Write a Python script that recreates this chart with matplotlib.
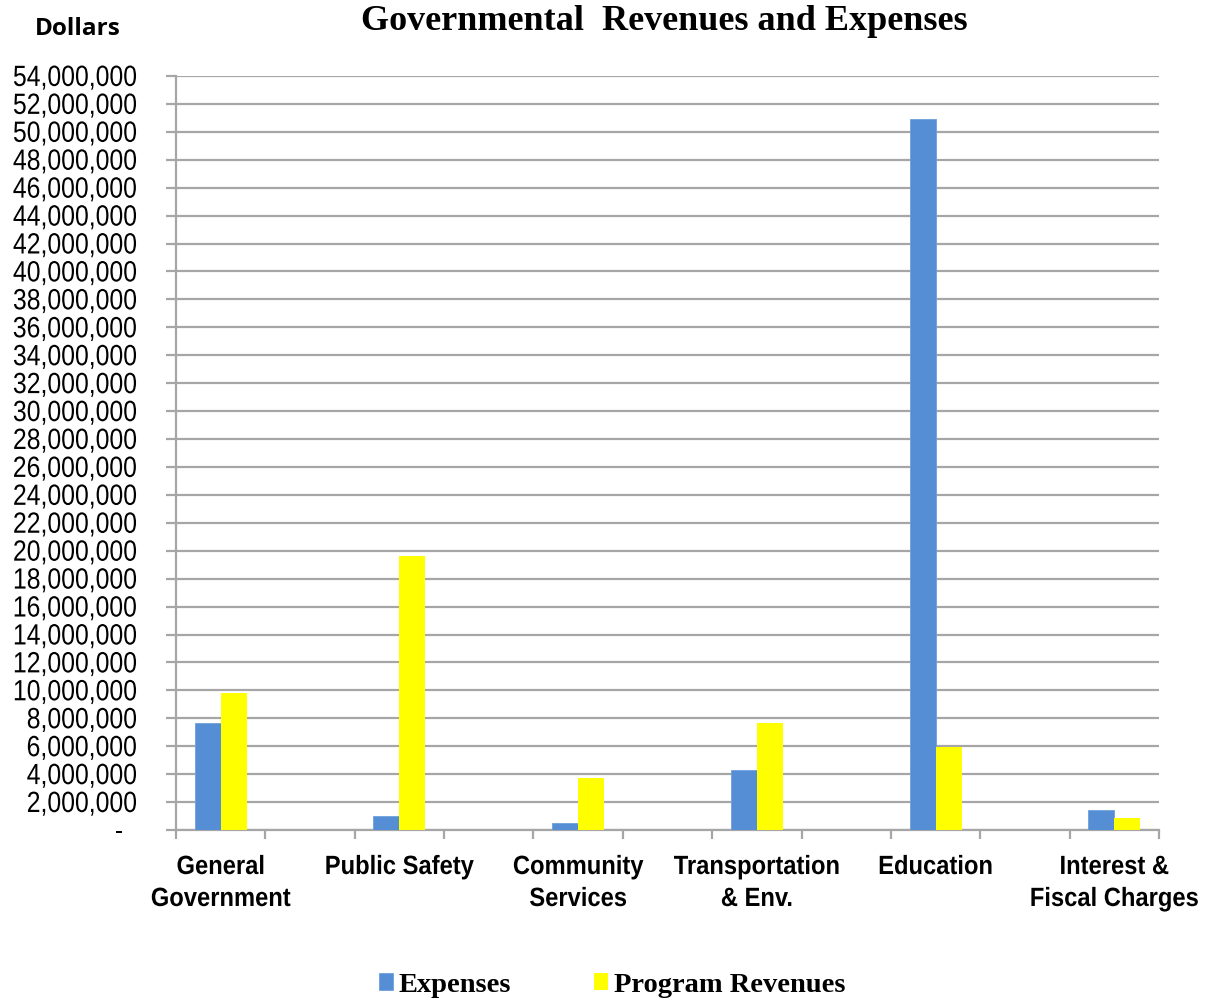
import numpy as np
import matplotlib
matplotlib.use('Agg')
import matplotlib.pyplot as plt
from matplotlib.ticker import FuncFormatter, FixedLocator
from matplotlib.patheffects import AbstractPathEffect
from matplotlib.transforms import Affine2D

# Data
categories = ['General\nGovernment', 'Public Safety', 'Community\nServices',
              'Transportation\n& Env.', 'Education', 'Interest &\nFiscal Charges']
expenses = [7660000, 1000000, 500000, 4300000, 50900000, 1430000]
program_revenues = [9810000, 19600000, 3720000, 7660000, 5940000, 860000]


class Stretch(AbstractPathEffect):
    # rescale the glyphs around (x0, y0) to mimic the narrow font (none installed)
    def __init__(self, x0, y0, sx, sy=1.0):
        super().__init__()
        self.x0, self.y0, self.sx, self.sy = x0, y0, sx, sy

    def draw_path(self, renderer, gc, tpath, affine, rgbFace=None):
        t = affine + Affine2D().translate(-self.x0, -self.y0).scale(self.sx, self.sy) \
            .translate(self.x0, self.y0)
        renderer.draw_path(gc, tpath, t, rgbFace)


fig = plt.figure(figsize=(12.12, 10.01), dpi=100)
ax = fig.add_axes([176/1212, 1 - 830/1001, (1159-176)/1212, (830-76)/1001])

# each category sits on every other slot, blanks in between (like the original sheet)
pos = np.arange(len(categories)) * 2
w = 0.29
ax.bar(pos - w/2, expenses, w, color='#558ED5', edgecolor='#6E9FDC', linewidth=0.6,
       label='Expenses', zorder=3)
ax.bar(pos + w/2, program_revenues, w, color='#FFFF00', label='Program Revenues', zorder=3)

ax.set_xlim(-0.5, 2*len(categories) - 1.5)
ax.set_ylim(0, 54000000)
ax.yaxis.set_major_locator(FixedLocator(np.arange(0, 54000001, 2000000)))
ax.yaxis.set_major_formatter(FuncFormatter(lambda v, p: '-  ' if v == 0 else f'{int(v):,}'))
ax.grid(axis='y', color='#A6A6A6', linewidth=1.6, zorder=0)

ax.set_xticks(pos)
ax.set_xticklabels(categories, fontfamily='Liberation Sans', fontweight='bold', fontsize=19,
                   linespacing=1.42)
ax.xaxis.set_minor_locator(FixedLocator(np.arange(-0.5, 2*len(categories) - 1, 1)))
ax.tick_params(axis='x', which='major', length=0, pad=18)
ax.tick_params(axis='x', which='minor', length=6.5, width=1.6, color='#A6A6A6')
ax.tick_params(axis='y', length=7.2, width=1.6, color='#A6A6A6', pad=21)
for lab in ax.get_yticklabels():
    lab.set_fontfamily('Liberation Sans')
    lab.set_fontsize(17)

for s in ['top', 'right']:
    ax.spines[s].set_visible(False)
for s in ['left', 'bottom']:
    ax.spines[s].set_color('#A6A6A6')
    ax.spines[s].set_linewidth(1.6)

fig.text(664/1212, 1 - 22/1001, 'Governmental  Revenues and Expenses', ha='center', va='center',
         fontfamily='Liberation Serif', fontweight='bold', fontsize=26)
fig.text(35/1212, 1 - 29/1001, 'Dollars', ha='left', va='center',
         fontfamily='Open Sans', fontweight='bold', fontsize=17.5)

leg = fig.legend(loc='center', bbox_to_anchor=(612/1212, 1 - 985/1001), ncol=2,
                 frameon=False, handlelength=0.5, handleheight=0.5, handletextpad=0.2,
                 columnspacing=2.9, borderpad=0, borderaxespad=0,
                 prop={'family': 'Liberation Serif', 'weight': 'bold', 'size': 20.5})

# reshape tick labels to look like the narrow font of the original
fig.canvas.draw()
r = fig.canvas.get_renderer()
for lab in ax.get_yticklabels():
    bb = lab.get_window_extent(r)
    lab.set_path_effects([Stretch(bb.x1, (bb.y0 + bb.y1) / 2, 1.05, 1.24)])
for lab in ax.get_xticklabels():
    bb = lab.get_window_extent(r)
    lab.set_path_effects([Stretch((bb.x0 + bb.x1) / 2, bb.y1, 0.9)])

fig.savefig('out.png', dpi=100)
